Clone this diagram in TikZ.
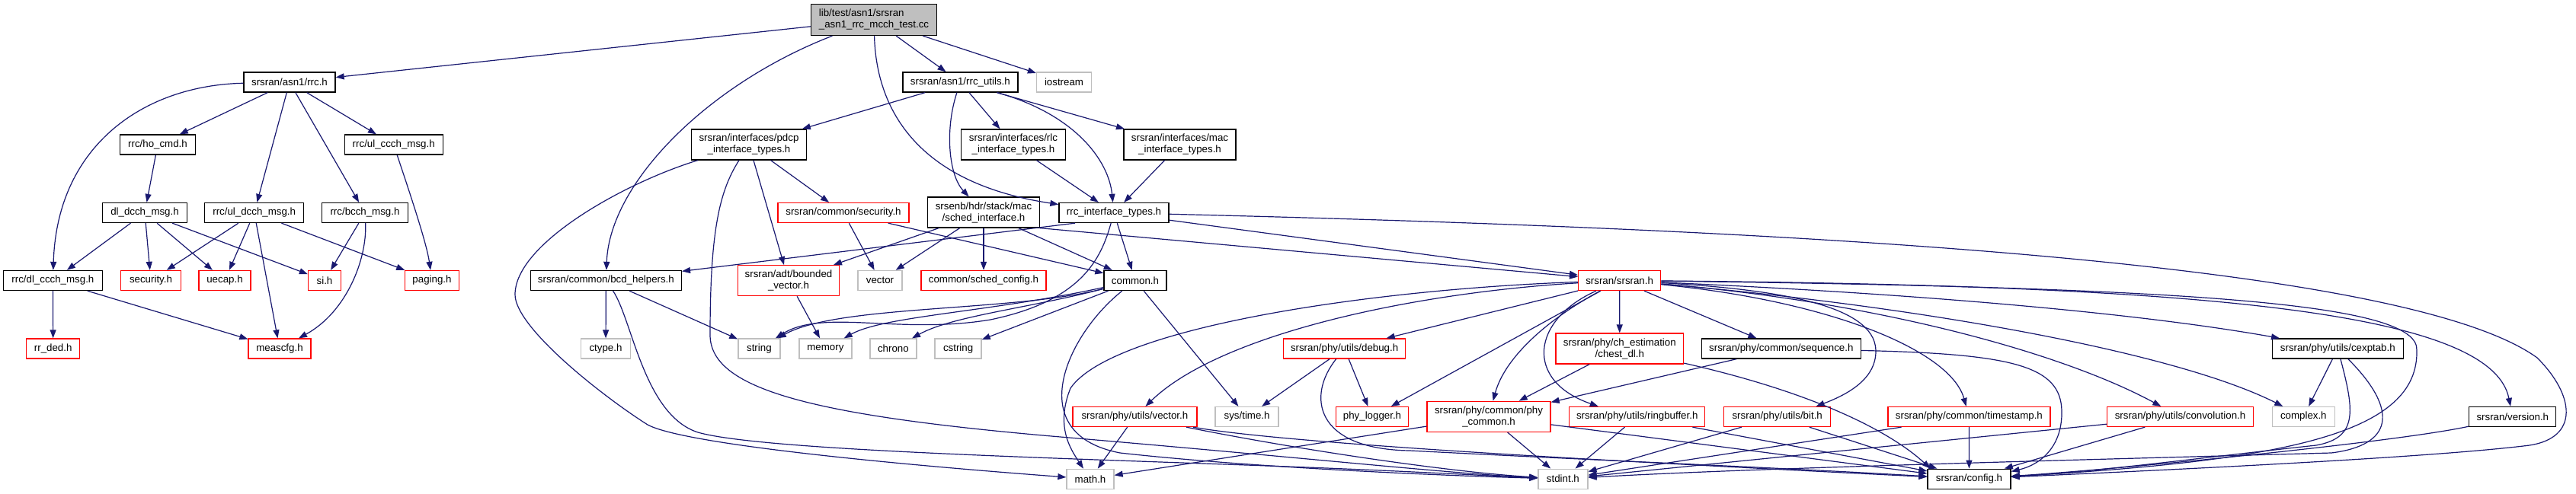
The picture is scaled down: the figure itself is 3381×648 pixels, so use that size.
\documentclass[tikz,border=0pt]{standalone}
\usepackage{fontspec}
\setmainfont{Liberation Sans}
\usetikzlibrary{arrows.meta}
\definecolor{edgec}{HTML}{191970}
\definecolor{greyext}{HTML}{BFBFBF}
\definecolor{redtr}{HTML}{FF0000}
\newcommand{\dgfont}{\fontsize{13.3}{15}\selectfont}
\tikzset{
  nd/.style={rectangle, draw=black, fill=white, line width=1.3pt, inner sep=0pt,
             minimum height=26pt, font=\dgfont, text=black, align=center},
  nr/.style={nd, draw=redtr},
  ng/.style={nd, draw=greyext},
  two/.style={minimum height=40pt},
  w/.style={minimum width=#1pt},
  edge/.style={draw=edgec, line width=1.2pt, -{Triangle[length=11pt,width=8pt]}}
}
\begin{document}
\begin{tikzpicture}[x=1pt,y=-1pt]
\fill[white] (0,0) rectangle (3381,648);
\useasboundingbox (0,0) rectangle (3381,648);

% ---------- nodes ----------
\node[nd,fill=greyext,w=165,minimum height=41pt,align=left] (main) at (1147,26) {lib/test/asn1/srsran\\\_asn1\_rrc\_mcch\_test.cc};
\node[nd,w=120] (rrc) at (380,108) {srsran/asn1/rrc.h};
\node[nd,w=151] (rrcutils) at (1260.4,108) {srsran/asn1/rrc\_utils.h};
\node[ng,w=72] (iostream) at (1396.5,108) {iostream};
\node[nd,w=99] (hocmd) at (207,190) {rrc/ho\_cmd.h};
\node[nd,w=129] (ulccch) at (516.7,190) {rrc/ul\_ccch\_msg.h};
\node[nd,w=151,two] (pdcp) at (983,190) {srsran/interfaces/pdcp\\\_interface\_types.h};
\node[nd,w=137,two] (rlc) at (1330,190) {srsran/interfaces/rlc\\\_interface\_types.h};
\node[nd,w=147,two] (mac) at (1548.5,190) {srsran/interfaces/mac\\\_interface\_types.h};
\node[nd,w=111] (dldcch) at (190,279.5) {dl\_dcch\_msg.h};
\node[nd,w=130] (uldcch) at (333.7,279.5) {rrc/ul\_dcch\_msg.h};
\node[nd,w=113] (bcch) at (479,279.5) {rrc/bcch\_msg.h};
\node[nr,w=172] (csec) at (1107,279.5) {srsran/common/security.h};
\node[nd,w=147,two] (sched) at (1291,279) {srsenb/hdr/stack/mac\\/sched\_interface.h};
\node[nd,w=144] (rrcif) at (1462,279.5) {rrc\_interface\_types.h};
\node[nd,w=130] (dlccch) at (69.4,368.5) {rrc/dl\_ccch\_msg.h};
\node[nr,w=79] (sec) at (198,368.5) {security.h};
\node[nr,w=68] (uecap) at (295,368.5) {uecap.h};
\node[nr,w=43] (si) at (426,368.5) {si.h};
\node[nr,w=70.5] (paging) at (567,368.5) {paging.h};
\node[nd,w=198] (bcd) at (795.4,368.5) {srsran/common/bcd\_helpers.h};
\node[nr,w=133,two] (bvec) at (1035,368.7) {srsran/adt/bounded\\\_vector.h};
\node[ng,w=58] (vector) at (1155,368.5) {vector};
\node[nr,w=164] (schedcfg) at (1291,368.5) {common/sched\_config.h};
\node[nd,w=82] (common) at (1490,368.5) {common.h};
\node[nr,w=108] (srsran) at (2125.6,368.5) {srsran/srsran.h};
\node[nr,w=70] (rrded) at (69.7,458) {rr\_ded.h};
\node[nr,w=82] (meascfg) at (367,458) {meascfg.h};
\node[ng,w=65] (ctype) at (795,458) {ctype.h};
\node[ng,w=55] (string) at (996.4,458) {string};
\node[ng,w=69] (memory) at (1083.4,458) {memory};
\node[ng,w=61] (chrono) at (1172.4,458) {chrono};
\node[ng,w=61] (cstring) at (1257.6,458) {cstring};
\node[nr,w=160] (debug) at (1764.6,458) {srsran/phy/utils/debug.h};
\node[nr,w=167.5,two] (chest) at (2125.8,458) {srsran/phy/ch\_estimation\\/chest\_dl.h};
\node[nd,w=209] (sequence) at (2337.8,458) {srsran/phy/common/sequence.h};
\node[nd,w=172] (cexptab) at (3068.3,458) {srsran/phy/utils/cexptab.h};
\node[nr,w=163] (pvector) at (1489.4,547.5) {srsran/phy/utils/vector.h};
\node[ng,w=83] (systime) at (1636.6,547.5) {sys/time.h};
\node[nr,w=95] (phylogger) at (1801,547.5) {phy\_logger.h};
\node[nr,w=162,two] (phycommon) at (1954,547.3) {srsran/phy/common/phy\\\_common.h};
\node[nr,w=178] (ringbuf) at (2148.7,547.5) {srsran/phy/utils/ringbuffer.h};
\node[nr,w=140] (bit) at (2332.7,547.5) {srsran/phy/utils/bit.h};
\node[nr,w=213] (timestamp) at (2584.4,547.5) {srsran/phy/common/timestamp.h};
\node[nr,w=192] (conv) at (2861.5,547.5) {srsran/phy/utils/convolution.h};
\node[ng,w=82] (complex) at (3023.3,547.5) {complex.h};
\node[nd,w=114] (version) at (3297.8,547.5) {srsran/version.h};
\node[ng,w=62] (mathh) at (1431,629.3) {math.h};
\node[ng,w=65] (stdint) at (2051.4,629.2) {stdint.h};
\node[nd,w=109] (config) at (2584.5,629.2) {srsran/config.h};

% ---------- edges ----------
% main file
\draw[edge] (main) -- (rrc);
\draw[edge] (main) .. controls (930,110) and (800,240) .. (bcd);
\draw[edge] (main) .. controls (1150,140) and (1200,240) .. (rrcif);
\draw[edge] (main) -- (rrcutils);
\draw[edge] (main) -- (iostream);
% rrc.h
\draw[edge] (rrc) .. controls (190,112) and (75,190) .. (dlccch);
\draw[edge] (rrc) -- (hocmd);
\draw[edge] (rrc) -- (uldcch);
\draw[edge] (rrc) -- (bcch);
\draw[edge] (rrc) -- (ulccch);
\draw[edge] (hocmd) -- (dldcch);
\draw[edge] (ulccch) .. controls (540,260) and (560,320) .. (paging);
\draw[edge] (dldcch) -- (dlccch);
\draw[edge] (dldcch) -- (sec);
\draw[edge] (dldcch) -- (uecap);
\draw[edge] (dldcch) -- (si);
\draw[edge] (uldcch) -- (sec);
\draw[edge] (uldcch) -- (uecap);
\draw[edge] (uldcch) -- (meascfg);
\draw[edge] (uldcch) -- (paging);
\draw[edge] (bcch) -- (si);
\draw[edge] (bcch) .. controls (482,340) and (455,410) .. (meascfg);
\draw[edge] (dlccch) -- (rrded);
\draw[edge] (dlccch) -- (meascfg);
% rrc_utils.h
\draw[edge] (rrcutils) -- (pdcp);
\draw[edge] (rrcutils) .. controls (1240,170) and (1245,230) .. (sched);
\draw[edge] (rrcutils) -- (rlc);
\draw[edge] (rrcutils) -- (mac);
\draw[edge] (rrcutils) .. controls (1410,150) and (1455,210) .. (rrcif);
\draw[edge] (rlc) -- (rrcif);
\draw[edge] (mac) -- (rrcif);
% pdcp
\draw[edge] (pdcp) -- (csec);
\draw[edge] (pdcp) -- (bvec);
\draw[edge] (pdcp) .. controls (820,240) and (676,320) .. (676,387)
  .. controls (676,430) and (790,520) .. (850,558)
  .. controls (900,585) and (1200,612) .. (mathh);
\draw[edge] (pdcp) .. controls (945,250) and (932,300) .. (932,440)
  .. controls (932,510) and (1060,545) .. (1380,573)
  .. controls (1700,600) and (1900,622) .. (stdint);
% bcd helpers
\draw[edge] (bcd) -- (ctype);
\draw[edge] (bcd) -- (string);
\draw[edge] (bcd) .. controls (830,420) and (845,545) .. (916,568)
  .. controls (1000,592) and (1400,602) .. (1690,613)
  .. controls (1850,619) and (1950,625) .. (stdint);
% common/security.h
\draw[edge] (csec) -- (vector);
\draw[edge] (csec) -- (common);
% sched_interface
\draw[edge] (sched) -- (bvec);
\draw[edge] (sched) -- (vector);
\draw[edge] (sched) -- (schedcfg);
\draw[edge] (sched) -- (common);
\draw[edge] (sched.south east) -- (srsran);
% rrc_interface_types
\draw[edge] (rrcif.195) -- (bcd);
\draw[edge] (rrcif) .. controls (1445,340) and (1420,395) .. (1300,420)
  .. controls (1180,440) and (1080,405) .. (string);
\draw[edge] (rrcif) -- (common);
\draw[edge] (rrcif) -- (srsran);
\draw[edge] (rrcif) .. controls (2300,300) and (3150,340) .. (3330,470)
  .. controls (3380,520) and (3385,575) .. (3320,585)
  .. controls (3200,600) and (2900,615) .. (config);
% bounded_vector
\draw[edge] (bvec) -- (memory);
% common.h
\draw[edge] (common) .. controls (1330,410) and (1100,400) .. (string);
\draw[edge] (common) .. controls (1300,410) and (1160,415) .. (memory);
\draw[edge] (common) .. controls (1350,405) and (1250,415) .. (chrono);
\draw[edge] (common) -- (cstring);
\draw[edge] (common) -- (systime);
\draw[edge] (common) .. controls (1400,440) and (1340,570) .. (1470,595)
  .. controls (1650,615) and (1900,625) .. (stdint);
% srsran.h
\draw[edge] (srsran) .. controls (1800,380) and (1460,430) .. (1405,510)
  .. controls (1385,560) and (1405,590) .. (mathh);
\draw[edge] (srsran) .. controls (1850,385) and (1600,440) .. (pvector);
\draw[edge] (srsran) -- (debug);
\draw[edge] (srsran) -- (phylogger);
\draw[edge] (srsran) .. controls (2030,420) and (1975,470) .. (phycommon);
\draw[edge] (srsran) .. controls (2010,420) and (2000,500) .. (ringbuf.165);
\draw[edge] (srsran) -- (chest);
\draw[edge] (srsran) -- (sequence);
\draw[edge] (srsran) .. controls (2330,380) and (2460,400) .. (2462,460)
  .. controls (2463,500) and (2420,520) .. (bit.15);
\draw[edge] (srsran) .. controls (2400,395) and (2560,460) .. (timestamp);
\draw[edge] (srsran) .. controls (2450,395) and (2700,460) .. (conv);
\draw[edge] (srsran) .. controls (2500,400) and (2850,460) .. (complex);
\draw[edge] (srsran) .. controls (2500,385) and (2800,410) .. (cexptab);
\draw[edge] (srsran) .. controls (2900,375) and (3270,410) .. (version);
\draw[edge] (srsran) .. controls (2900,378) and (3175,400) .. (3172,460)
  .. controls (3175,570) and (3000,605) .. (config);
% debug.h
\draw[edge] (debug) -- (systime);
\draw[edge] (debug) -- (phylogger);
\draw[edge] (debug) .. controls (1715,520) and (1725,590) .. (1850,592)
  .. controls (2100,605) and (2350,615) .. (config);
% chest_dl
\draw[edge] (chest) -- (phycommon);
\draw[edge] (chest) .. controls (2400,520) and (2490,575) .. (config.165);
% sequence
\draw[edge] (sequence) -- (phycommon);
\draw[edge] (sequence) .. controls (2640,465) and (2705,480) .. (2706,540)
  .. controls (2707,585) and (2680,610) .. (config.10);
% cexptab
\draw[edge] (cexptab) -- (complex);
\draw[edge] (cexptab) .. controls (3090,540) and (3095,575) .. (3040,585)
  .. controls (2900,600) and (2750,620) .. (config);
\draw[edge] (cexptab) .. controls (3150,540) and (3140,585) .. (3060,595)
  .. controls (2700,605) and (2300,615) .. (stdint);
% phy/utils/vector.h
\draw[edge] (pvector) -- (mathh);
\draw[edge] (pvector) .. controls (1700,590) and (1900,620) .. (stdint);
\draw[edge] (pvector) .. controls (1700,585) and (2200,610) .. (config);
% phy_common
\draw[edge] (phycommon) -- (mathh);
\draw[edge] (phycommon) -- (stdint);
\draw[edge] (phycommon) -- (config);
% ringbuffer, bit, timestamp, convolution, version
\draw[edge] (ringbuf) -- (stdint);
\draw[edge] (ringbuf) -- (config);
\draw[edge] (bit) -- (stdint);
\draw[edge] (bit) -- (config);
\draw[edge] (timestamp) -- (stdint);
\draw[edge] (timestamp) -- (config);
\draw[edge] (conv) -- (stdint);
\draw[edge] (conv) -- (config);
\draw[edge] (version) .. controls (3150,580) and (2800,615) .. (config);
\end{tikzpicture}
\end{document}
